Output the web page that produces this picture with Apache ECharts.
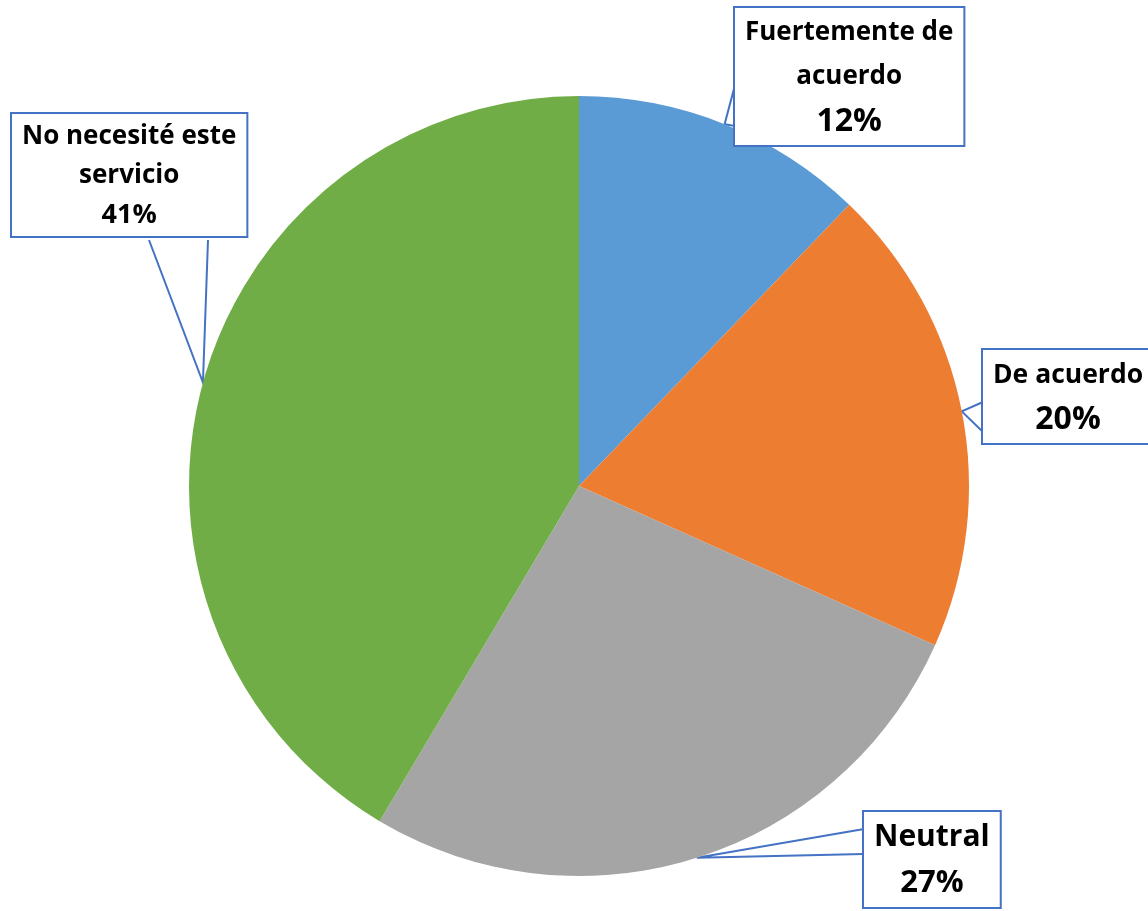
<!DOCTYPE html>
<html>
<head>
<meta charset="utf-8">
<script src="https://cdn.jsdelivr.net/npm/echarts@6/dist/echarts.min.js"></script>
<style>
  html, body { margin: 0; padding: 0; background: #fff; }
  #chart { width: 1148px; height: 911px; }
</style>
</head>
<body>
<div id="chart"></div>
<script>
const categories = ["Fuertemente de acuerdo", "De acuerdo", "Neutral", "No necesité este servicio"];
const labelText = ["Fuertemente de\nacuerdo", "De acuerdo", "Neutral", "No necesité este\nservicio"];
const values = [12.18, 19.51, 26.85, 41.46];
const colors = ["#5B9BD5", "#ED7D31", "#A5A5A5", "#70AD47"];

// callout boxes: top-left corner and the two wedge points relative to it
const callouts = [
  { x: 735, y: 8, a: [0, 77], b: [0, 118] },
  { x: 983, y: 350, a: [0, 52], b: [0, 82] },
  { x: 864, y: 812, a: [0, 17], b: [0, 42] },
  { x: 12, y: 114, a: [137, 126], b: [196, 126] }
];

// font size of name / percent and line height per callout
const textSizes = [
  { n: 26, p: 32, lh: 44 },
  { n: 26.5, p: 32, lh: 44 },
  { n: 30, p: 31, lh: 45 },
  { n: 26, p: 27, lh: 39 }
];

const font = "'Open Sans', 'Noto Sans', sans-serif";

const rich = {};
textSizes.forEach((s, i) => {
  rich["n" + i] = { fontFamily: font, fontWeight: "bold", fontSize: s.n, lineHeight: s.lh, color: "#000", align: "center" };
  rich["p" + i] = { fontFamily: font, fontWeight: "bold", fontSize: s.p, lineHeight: s.lh + 1, color: "#000", align: "center" };
});

const chart = echarts.init(document.getElementById("chart"));

chart.setOption({
  animation: false,
  color: colors,
  series: [
    {
      type: "pie",
      center: [579, 486],
      radius: 390,
      startAngle: 90,
      clockwise: true,
      avoidLabelOverlap: false,
      itemStyle: { borderWidth: 0 },
      data: categories.map((name, i) => ({ name, value: values[i] })),
      label: {
        show: true,
        position: "outside",
        backgroundColor: "#fff",
        borderColor: "#4472C4",
        borderWidth: 2,
        padding: [3, 10, 1, 10],
        formatter: (p) => {
          const i = p.dataIndex;
          const lines = labelText[i].split("\n").map((t) => `{n${i}|${t}}`);
          return lines.join("\n") + `\n{p${i}|${Math.round(p.percent)}%}`;
        },
        rich
      },
      labelLine: {
        show: true,
        lineStyle: { color: "#4472C4", width: 2 }
      },
      labelLayout: (params) => {
        const c = callouts[params.dataIndex];
        const tip = params.labelLinePoints ? params.labelLinePoints[0] : [c.x, c.y];
        return {
          x: c.x,
          y: c.y,
          align: "left",
          verticalAlign: "top",
          labelLinePoints: [
            [c.x + c.a[0], c.y + c.a[1]],
            tip,
            [c.x + c.b[0], c.y + c.b[1]]
          ]
        };
      }
    }
  ]
});
</script>
</body>
</html>
